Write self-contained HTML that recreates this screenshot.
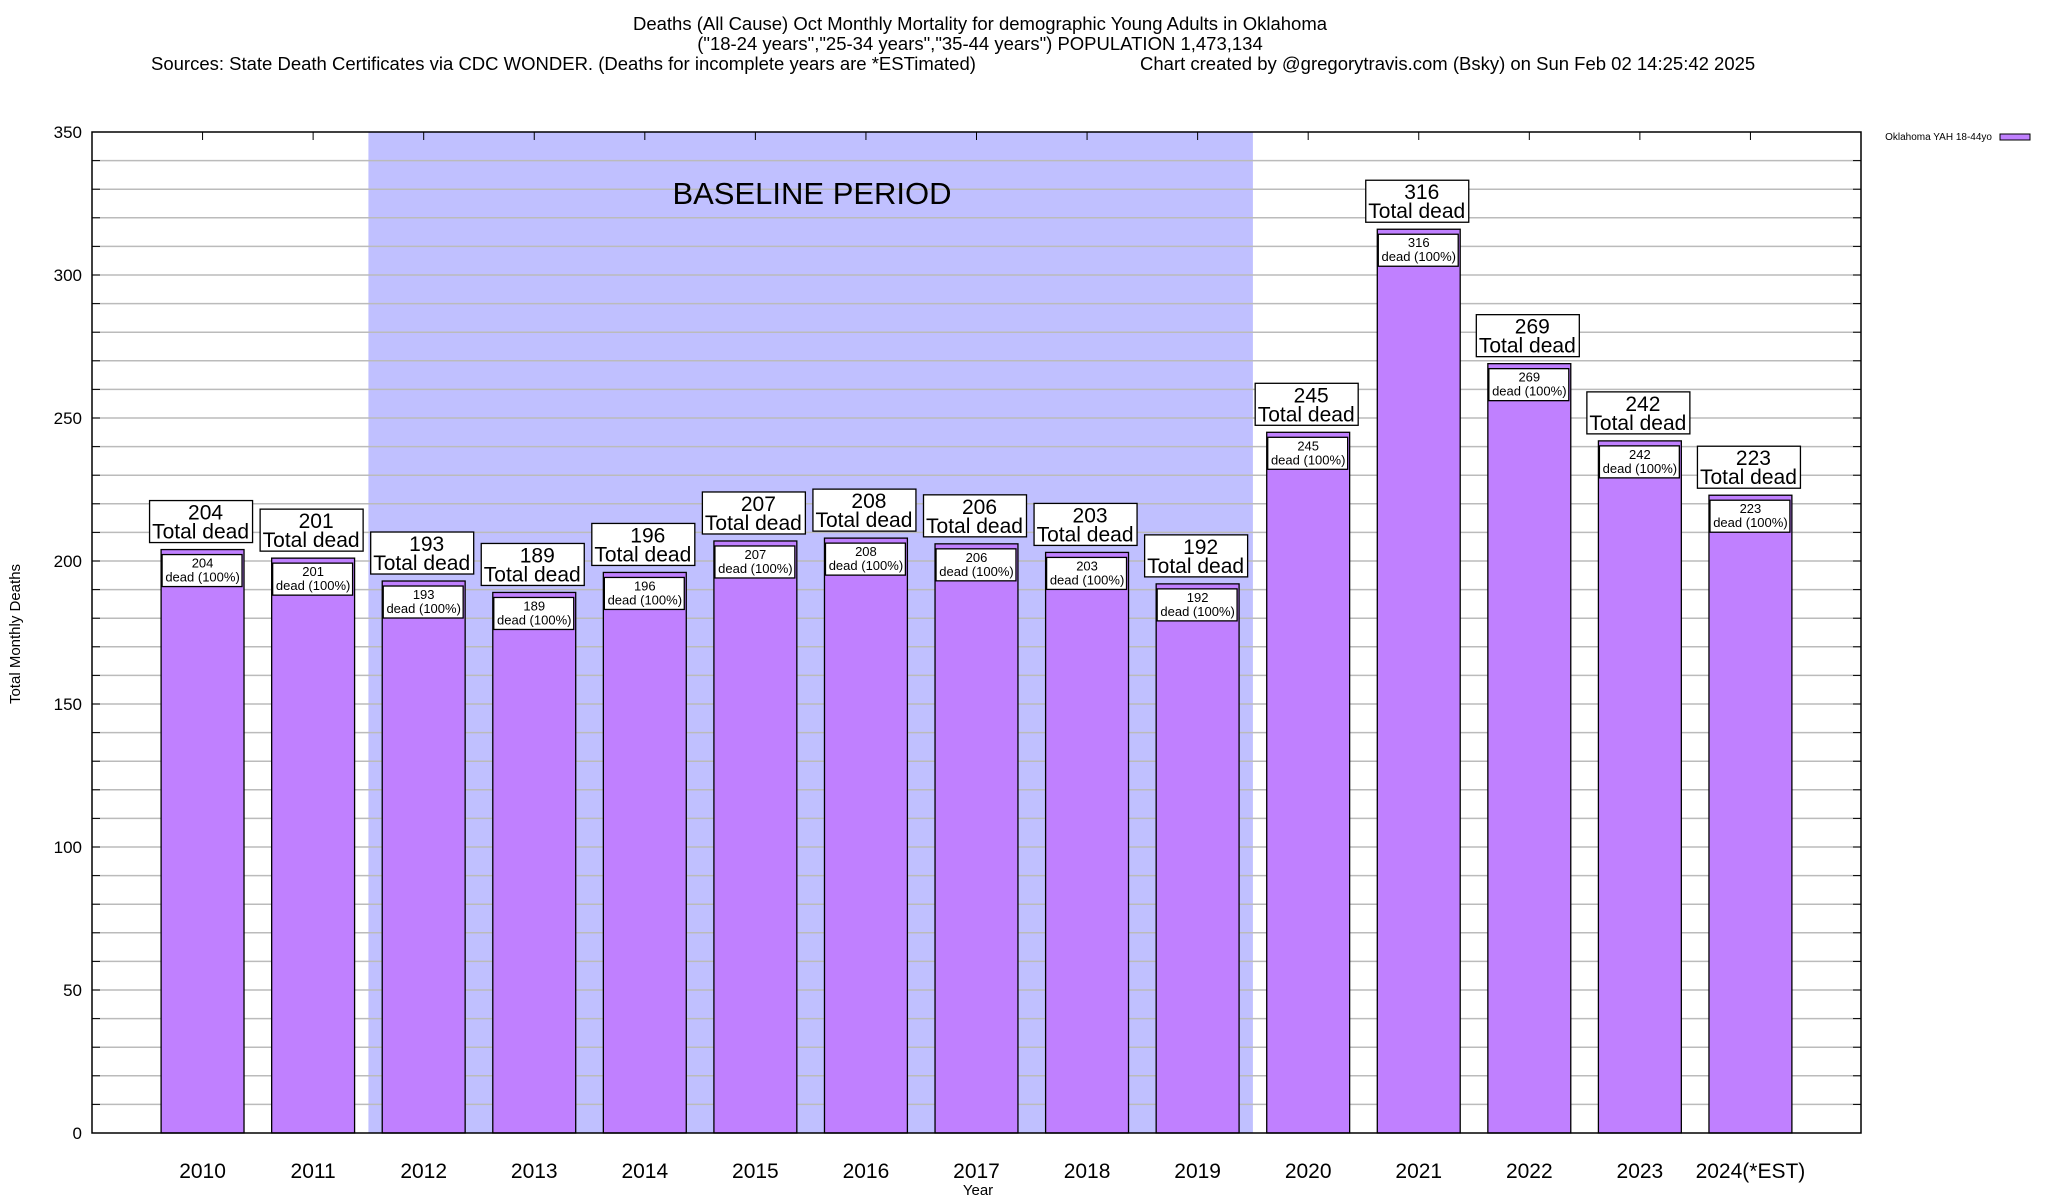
<!DOCTYPE html>
<html><head><meta charset="utf-8"><style>
html,body{margin:0;padding:0;background:#fff}
svg{display:block;font-family:"Liberation Sans",Arial,sans-serif}
</style></head><body>
<svg id="chart" width="2048" height="1200" viewBox="0 0 2048 1200">
<g>
<text x="980" y="30" font-size="18.5" text-anchor="middle">Deaths (All Cause) Oct Monthly Mortality for demographic Young Adults in Oklahoma</text>
<text x="980" y="50" font-size="18.5" text-anchor="middle">("18-24 years","25-34 years","35-44 years") POPULATION 1,473,134</text>
<text x="151" y="70" font-size="18.5">Sources: State Death Certificates via CDC WONDER. (Deaths for incomplete years are *ESTimated)</text>
<text x="1140" y="70" font-size="18.5">Chart created by @gregorytravis.com (Bsky) on Sun Feb 02 14:25:42 2025</text>
</g>
<g id="plot"></g>
</svg>
<script>
const years = ["2010","2011","2012","2013","2014","2015","2016","2017","2018","2019","2020","2021","2022","2023","2024(*EST)"];
const deaths = [204,201,193,189,196,207,208,206,203,192,245,316,269,242,223];
const yTicks = [0,50,100,150,200,250,300,350];
const baselineStart = 2;
const baselineEnd = 9;

const NS="http://www.w3.org/2000/svg";
const L=92,R=1861,T=132,B=1133,YMAX=350;
const ux=(R-L)/16;
const xs=i=>L+(i+1)*ux;
const ys=v=>B-(v/YMAX)*(B-T);
const g=document.getElementById('plot');
function mk(tag,attrs,parent){const e=document.createElementNS(NS,tag);for(const k in attrs)e.setAttribute(k,attrs[k]);(parent||g).appendChild(e);return e;}

const reg=mk('rect',{x:xs(baselineStart)-ux/2,y:T,width:(baselineEnd-baselineStart+1)*ux,height:B-T,fill:'#c0c0ff'});


for(let v=10;v<YMAX;v+=10){
  const ln=mk('line',{x1:L,x2:R,y1:ys(v),y2:ys(v),stroke:'#bbb','stroke-width':1.5});
  
  
  mk('line',{x1:L,x2:L+8,y1:ys(v),y2:ys(v),stroke:'#000'});
  mk('line',{x1:R-8,x2:R,y1:ys(v),y2:ys(v),stroke:'#000'});
}
const bt=mk('text',{x:812,y:204,'font-size':31,'text-anchor':'middle'});
bt.textContent='BASELINE PERIOD';


yTicks.forEach(v=>{
  const t=mk('text',{x:82,y:ys(v)+6,'font-size':17,'text-anchor':'end'});
  t.textContent=v;
  
  
});
years.forEach((yr,i)=>{
  const cx=xs(i),bw=ux*0.75,top=ys(deaths[i]);
  const bar=mk('rect',{x:cx-bw/2,y:top,width:bw,height:B-top,fill:'#c080ff',stroke:'#000','stroke-width':1.3});
  
  
  mk('line',{x1:cx,x2:cx,y1:T,y2:T+8,stroke:'#000'});
  const ib=mk('rect',{x:cx-bw/2+1,y:top+5,width:bw-3,height:32,fill:'#fff',stroke:'#000','stroke-width':1.3});
  
  
  const it=mk('text',{x:cx,y:top+18,'font-size':13,'text-anchor':'middle'});
  it.textContent=deaths[i];
  
  
  const it2=mk('text',{x:cx,y:top+32,'font-size':13,'text-anchor':'middle'});
  it2.textContent='dead (100%)';
  
  
  const ob=mk('rect',{x:cx-53,y:top-49,width:103,height:42,fill:'#fff',stroke:'#000','stroke-width':1.3});
  
  
  const o1=mk('text',{x:cx+3,y:top-30,'font-size':21,'text-anchor':'middle'});
  o1.textContent=deaths[i];
  
  
  const o2=mk('text',{x:cx-2,y:top-11,'font-size':21,'text-anchor':'middle'});
  o2.textContent='Total dead';
  
  
  const xl=mk('text',{x:cx,y:1178,'font-size':21,'text-anchor':'middle'});
  xl.textContent=yr;
  
  
});
const fr=mk('rect',{x:L,y:T,width:R-L,height:B-T,fill:'none',stroke:'#000','stroke-width':1.5});


const xt=mk('text',{x:978,y:1195,'font-size':15,'text-anchor':'middle'});
xt.textContent='Year';


const yt=mk('text',{x:0,y:0,'font-size':15,'text-anchor':'middle',transform:'translate(20,634) rotate(-90)'});
yt.textContent='Total Monthly Deaths';


const lt=mk('text',{x:1992,y:140,'font-size':10,'text-anchor':'end'});
lt.textContent='Oklahoma YAH 18-44yo';


const ls=mk('rect',{x:2000,y:134,width:30,height:6,fill:'#c080ff',stroke:'#000'});


</script>
</body></html>
